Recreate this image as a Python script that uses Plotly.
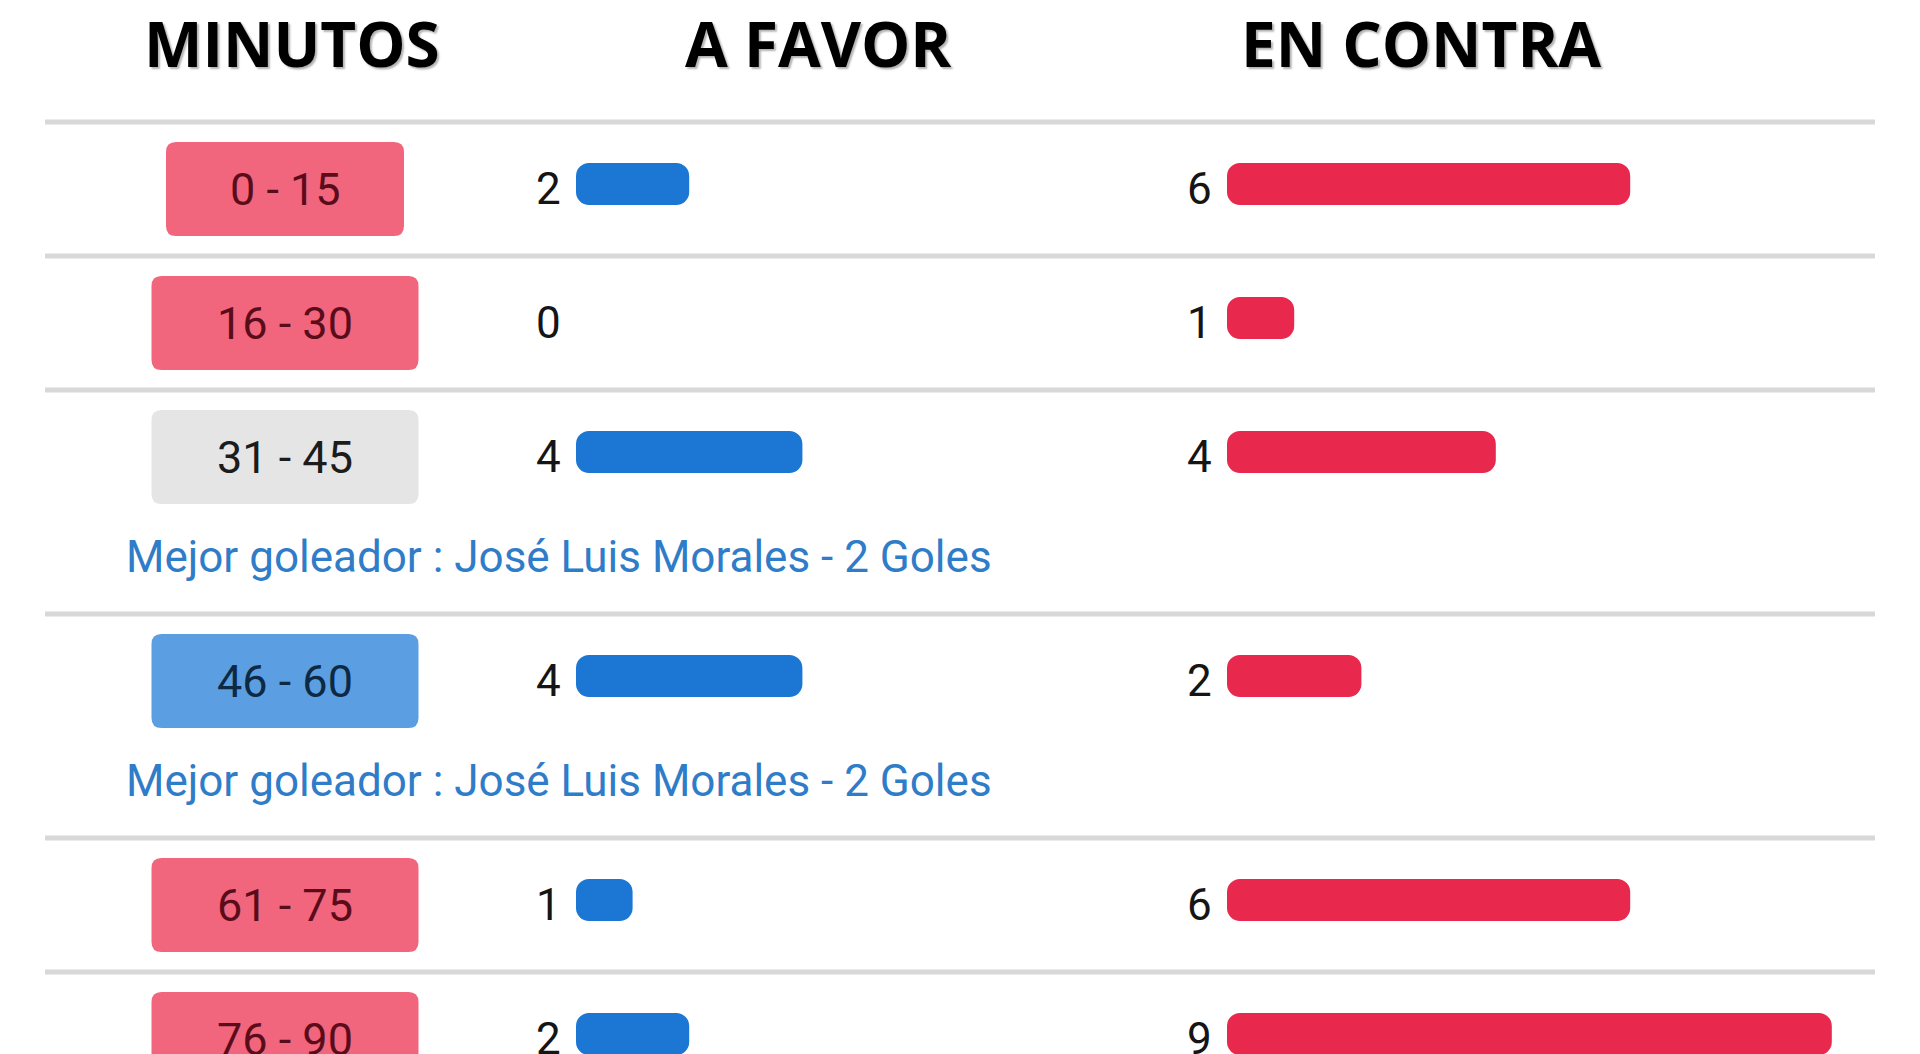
import plotly.graph_objects as go

# ---------------- data ----------------
minutos = ["0 - 15", "16 - 30", "31 - 45", "46 - 60", "61 - 75", "76 - 90"]
a_favor = [2, 0, 4, 4, 1, 2]
en_contra = [6, 1, 4, 2, 6, 9]
goleador = ["", "", "Mejor goleador : José Luis Morales - 2 Goles",
            "Mejor goleador : José Luis Morales - 2 Goles", "", ""]
headers = ["MINUTOS", "A FAVOR", "EN CONTRA"]

# ---------------- layout constants ----------------
W, H = 1920, 1054
FIRST, PITCH, NOTE_EXTRA = 189, 134, 90
FAV_X0, FAV_PX = 576, 56.6
CON_X0, CON_PX = 1227, 67.2
BAR_H, BAR_DY, BAR_R = 42, -5, 13
BOX_CX = 285
BLUE_BAR, RED_BAR = "#1b77d3", "#e8284c"
NUM_FONT = dict(family="Roboto", size=44, color="#151515")

rows_y = []
yy = FIRST
for g in goleador:
    rows_y.append(yy)
    yy += PITCH + (NOTE_EXTRA if g else 0)

fig = go.Figure()


def pill(vals, xa, color):
    ys = [rows_y[i] + BAR_DY for i, v in enumerate(vals) if v > 0]
    vs = [v for v in vals if v > 0]
    fig.add_bar(orientation="h", y=ys, x=vs, base=0,
                width=BAR_H, marker=dict(color=color, cornerradius=BAR_R, line_width=0),
                xaxis=xa, yaxis="y", hoverinfo="skip", showlegend=False)


pill(a_favor, "x", BLUE_BAR)
pill(en_contra, "x2", RED_BAR)

annotations = []
shapes = []

# value labels
for i, y in enumerate(rows_y):
    annotations.append(dict(x=0, y=y, xref="x", yref="y", text=str(a_favor[i]),
                            xanchor="right", yanchor="middle", xshift=-13,
                            showarrow=False, font=NUM_FONT))
    annotations.append(dict(x=0, y=y, xref="x2", yref="y", text=str(en_contra[i]),
                            xanchor="right", yanchor="middle", xshift=-13,
                            showarrow=False, font=NUM_FONT))

# minute boxes (colour from goal difference)
for i, y in enumerate(rows_y):
    diff = a_favor[i] - en_contra[i]
    if diff > 0:
        fill, tcol = "#5b9fe2", "#0e2944"
    elif diff == 0:
        fill, tcol = "#e5e5e5", "#1c1c1c"
    else:
        fill, tcol = "#f1657d", "#5a0c1b"
    hw = 32 + 14.5 * len(minutos[i])
    hh = 47
    x0 = (BOX_CX - hw) / W
    x1 = (BOX_CX + hw) / W
    rx = 10 / W
    path = (f"M {x0+rx},{y-hh} L {x1-rx},{y-hh} Q {x1},{y-hh} {x1},{y-hh+10} "
            f"L {x1},{y+hh-10} Q {x1},{y+hh} {x1-rx},{y+hh} L {x0+rx},{y+hh} "
            f"Q {x0},{y+hh} {x0},{y+hh-10} L {x0},{y-hh+10} Q {x0},{y-hh} {x0+rx},{y-hh} Z")
    shapes.append(dict(type="path", path=path, xref="paper", yref="y",
                       fillcolor=fill, line=dict(width=0), layer="below"))
    annotations.append(dict(x=BOX_CX / W, y=y, xref="paper", yref="y", text=minutos[i],
                            xanchor="center", yanchor="middle", showarrow=False,
                            font=dict(family="Roboto", size=45, color=tcol)))

# separators
for i, y in enumerate(rows_y):
    shapes.append(dict(type="line", xref="paper", yref="y", x0=45 / W, x1=1875 / W,
                       y0=y - 67, y1=y - 67, line=dict(color="#d8d8d8", width=5),
                       layer="below"))

# goleador notes
for i, y in enumerate(rows_y):
    if goleador[i]:
        annotations.append(dict(x=124 / W, y=y + 100, xref="paper", yref="y",
                                text=goleador[i], xanchor="left", yanchor="middle",
                                showarrow=False,
                                font=dict(family="Roboto", size=44, color="#2f7cc8")))

# headers
for name, cx in zip(headers, [292, 818, 1421]):
    annotations.append(dict(x=cx / W, y=43, xref="paper", yref="y", text=name,
                            xanchor="center", yanchor="middle", showarrow=False,
                            font=dict(family="Open Sans", size=62, color="#000000",
                                      weight=700,
                                      shadow="2px 2px 2px rgba(0,0,0,0.3)")))

fig.update_layout(
    width=W, height=H,
    margin=dict(l=0, r=0, t=0, b=0),
    paper_bgcolor="white", plot_bgcolor="white",
    barmode="overlay",
    xaxis=dict(domain=[0, 1], range=[-FAV_X0 / FAV_PX, (W - FAV_X0) / FAV_PX],
               visible=False, fixedrange=True),
    xaxis2=dict(domain=[0, 1], range=[-CON_X0 / CON_PX, (W - CON_X0) / CON_PX],
                overlaying="x", anchor="y", visible=False, fixedrange=True),
    yaxis=dict(domain=[0, 1], range=[H, 0], visible=False, fixedrange=True),
    annotations=annotations,
    shapes=shapes,
    showlegend=False,
)

fig.write_html("out.html", config={"displayModeBar": False},
               post_script="document.body.style.margin='0';document.body.style.overflow='hidden';")
